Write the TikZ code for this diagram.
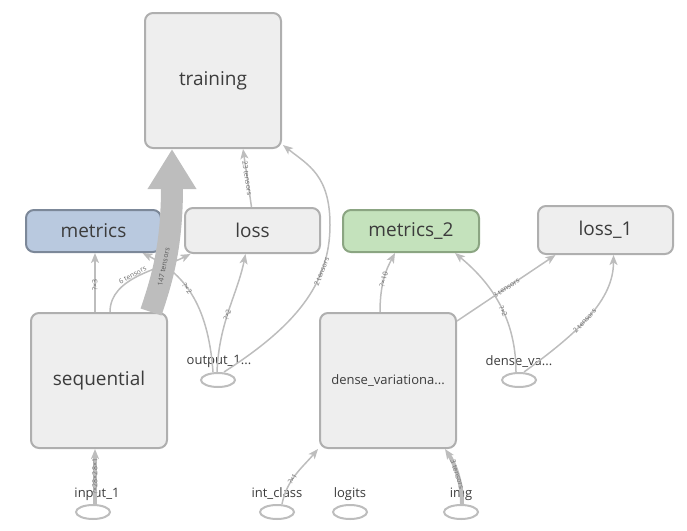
\documentclass[tikz,border=0pt]{standalone}
\usepackage{fontspec}
\setmainfont{Open Sans}
\usetikzlibrary{arrows.meta, shapes.geometric}

\definecolor{boxfill}{HTML}{EEEEEE}
\definecolor{boxline}{HTML}{AFAFAF}
\definecolor{bluefill}{HTML}{B9C9DF}
\definecolor{blueline}{HTML}{7C8899}
\definecolor{greenfill}{HTML}{C4E2BC}
\definecolor{greenline}{HTML}{8BA582}
\definecolor{edgegray}{HTML}{BDBDBD}
\definecolor{txtgray}{HTML}{3C3C3C}
\definecolor{lblgray}{HTML}{6E6E6E}

\begin{document}
\begin{tikzpicture}[x=1pt, y=-1pt,
every node/.style={align=center, text=txtgray},
opbox/.style={draw=boxline, fill=boxfill, rounded corners=8pt, line width=2pt, inner sep=0pt, font=\fontsize{19}{19}\selectfont},
metbox/.style={opbox, draw=blueline, fill=bluefill},
metbox2/.style={opbox, draw=greenline, fill=greenfill},
iobox/.style={ellipse, draw=edgegray, line width=2pt, minimum width=34pt, minimum height=14pt, inner sep=0pt},
iolabel/.style={font=\fontsize{13}{13}\selectfont, inner sep=0pt},
edge/.style={draw=edgegray, line width=1.5pt, -{Stealth[length=10pt, width=8pt, inset=2.5pt]}},
bigedge/.style={draw=edgegray, line width=22pt, -{Triangle[length=40pt, width=46pt]}},
elabel/.style={sloped, font=\fontsize{7}{7}\selectfont, text=lblgray, inner sep=1pt}]
\useasboundingbox (0,0) rectangle (687,530);
%================================================================
% Ops
\node[opbox, minimum width=136pt, minimum height=135pt] (training) at (213,80.5) {training};
\node[metbox, minimum width=135pt, minimum height=42pt] (metrics) at (93.5,231) {metrics};
\node[opbox, minimum width=135pt, minimum height=45pt] (loss) at (252.5,230.5) {loss};
\node[metbox2, minimum width=136pt, minimum height=42pt] (metrics2) at (411,231) {metrics\_2};
\node[opbox, minimum width=135pt, minimum height=48pt] (loss1) at (605.5,230) {loss\_1};
\node[opbox, minimum width=136pt, minimum height=135pt] (sequential) at (99,380.5) {sequential};
\node[opbox, minimum width=136pt, minimum height=135pt, font=\fontsize{13}{13}\selectfont] (dense) at (388,380.5) {dense\_variationa...};

%================================================================
% Inputs
\node[iolabel] (out1lbl) at (219,361) {output\_1...};
\node[iobox] (out1) at (218,380) {};
\node[iolabel] (dvalbl) at (519,362) {dense\_va...};
\node[iobox] (dva) at (519,380) {};
\node[iolabel] (in1lbl) at (97,494) {input\_1};
\node[iobox] (in1) at (93,512) {};
\node[iolabel] (intclbl) at (277,494) {int\_class};
\node[iobox] (intc) at (277,512) {};
\node[iolabel] (logitslbl) at (350,494) {logits};
\node[iobox] (logits) at (350,512) {};
\node[iolabel] (imglbl) at (461,494) {img};
\node[iobox] (img) at (461,512) {};

%================================================================
% Edges
\draw[edge] ([xshift=-4]sequential.north) -- ([xshift=1.5]metrics.south) node[elabel, pos=0.45] {?×3};
\draw[edge] ([xshift=11]sequential.north) .. controls +(0,-35) and +(-30,15) .. ([xshift=-62]loss.south) node[elabel, pos=0.45, above=-1pt] {6 tensors};
\draw[edge] ([xshift=-5]out1.north) .. controls +(-5,-70) and +(40,20) .. ([xshift=49]metrics.south) node[elabel, pos=0.55] {?×2};
\draw[edge] ([xshift=-1]out1.north) .. controls +(2,-50) and +(-8,40) .. ([xshift=-7]loss.south) node[elabel, pos=0.45] {?×2};
\draw[edge] ([xshift=6]out1.north) .. controls +(70,-45) and +(0,60) .. (330,225) node[elabel, pos=0.72] {2 tensors} .. controls +(0,-50) and +(25,20) .. ([xshift=1, yshift=4]training.south east);
\draw[edge] ([xshift=-1]loss.north) -- ([xshift=30]training.south) node[elabel, pos=0.5] {23 tensors};

\draw[edge] ([xshift=-8]dense.north) .. controls +(0,-30) and +(-8,15) .. ([xshift=-16]metrics2.south) node[elabel, pos=0.45] {?×10};
\draw[edge] ([yshift=-9]dense.north east) -- ([xshift=-50]loss1.south) node[elabel, pos=0.5] {8 tensors};
\draw[edge] ([xshift=-3]dva.north) .. controls +(0,-60) and +(30,25) .. ([xshift=44]metrics2.south) node[elabel, pos=0.4] {?×2};
\draw[edge] ([xshift=5]dva.north) .. controls +(55,-40) and +(0,45) .. ([xshift=8]loss1.south) node[elabel, pos=0.45] {2 tensors};

\draw[edge, line width=3.5pt] ([xshift=2]in1.north) -- ([xshift=-4]sequential.south) node[elabel, pos=0.5] {?×28×28×1};
\draw[edge] ([xshift=5]intc.north) .. controls +(5,-25) and +(-15,18) .. ([xshift=-70]dense.south) node[elabel, pos=0.4] {?×1};
\draw[edge, line width=4pt] ([xshift=1]img.north) .. controls +(0,-25) and +(8,12) .. ([xshift=57]dense.south) node[elabel, pos=0.45] {3 tensors};

% Big edge
\draw[bigedge] ([xshift=52]sequential.north) .. controls +(12,-35) and +(0,95) .. ([xshift=-41]training.south) node[elabel, pos=0.4, text=lblgray!80!black] {147 tensors};

%================================================================
\end{tikzpicture}
\end{document}
